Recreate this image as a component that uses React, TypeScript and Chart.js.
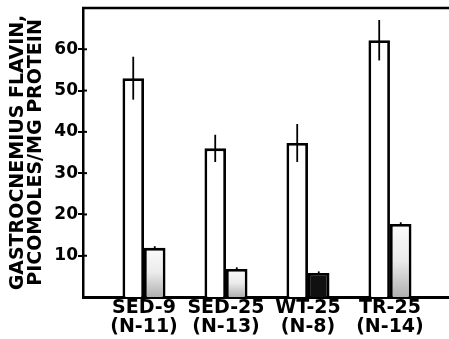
import { useEffect, useRef } from 'react';
import { Chart, registerables } from 'chart.js';

Chart.register(...registerables);

const groups = ['SED-9', 'SED-25', 'WT-25', 'TR-25'];
const groupN = ['(N-11)', '(N-13)', '(N-8)', '(N-14)'];
const openBarValues = [53, 36, 37.3, 62.2];
const openBarErrors = [5.2, 3.3, 4.6, 4.9];
const shadedBarValues = [11.9, 6.8, 5.8, 17.7];
const shadedBarErrors = [0.4, 0.4, 0.4, 0.4];
const yTickValues = [10, 20, 30, 40, 50, 60];
const yTitleLines = ['GASTROCNEMIUS FLAVIN,', 'PICOMOLES/MG PROTEIN'];

const FONT = "'DejaVu Sans', 'Liberation Sans', Arial, sans-serif";

const errorPlugin = {
  id: 'errorAndFrame',
  afterDatasetsDraw(chart: any) {
    const ctx = chart.ctx;
    const y = chart.scales.y;
    const errs = [openBarErrors, shadedBarErrors];
    const vals = [openBarValues, shadedBarValues];
    ctx.save();
    ctx.strokeStyle = '#000';
    ctx.lineWidth = 1.8;
    chart.data.datasets.forEach((_: any, di: number) => {
      const meta = chart.getDatasetMeta(di);
      meta.data.forEach((el: any, i: number) => {
        const v = vals[di][i];
        const e = errs[di][i];
        ctx.beginPath();
        ctx.moveTo(el.x, y.getPixelForValue(v + e));
        ctx.lineTo(el.x, y.getPixelForValue(v - e));
        ctx.stroke();
      });
    });
    // top frame line
    const ca = chart.chartArea;
    ctx.lineWidth = 2.5;
    ctx.beginPath();
    ctx.moveTo(ca.left - 1, ca.top);
    ctx.lineTo(chart.width, ca.top);
    ctx.stroke();
    // inner tick stubs on y axis
    ctx.lineWidth = 2;
    yTickValues.forEach((t) => {
      const py = y.getPixelForValue(t);
      ctx.beginPath();
      ctx.moveTo(ca.left, py);
      ctx.lineTo(ca.left + 4, py);
      ctx.stroke();
    });
    ctx.restore();
  },
};

export default function App() {
  const ref = useRef<HTMLCanvasElement | null>(null);

  useEffect(() => {
    if (!ref.current) return;
    const chart = new Chart(ref.current, {
      type: 'bar',
      data: {
        datasets: [
          {
            label: 'open',
            data: openBarValues.map((v, i) => ({ x: i, y: v })),
            backgroundColor: '#ffffff',
            borderColor: '#000000',
            borderWidth: 2.8,
          },
          {
            label: 'shaded',
            data: shadedBarValues.map((v, i) => ({ x: i, y: v })),
            backgroundColor: (c: any) => {
              if (c.dataIndex === 2) return '#111111';
              const chart = c.chart;
              const ys = chart.scales && chart.scales.y;
              if (!ys || !chart.chartArea) return '#d0d0d0';
              const v = shadedBarValues[c.dataIndex];
              const top = ys.getPixelForValue(v);
              const bot = ys.getPixelForValue(0);
              const g = chart.ctx.createLinearGradient(0, top, 0, bot);
              g.addColorStop(0, '#fbfbfb');
              g.addColorStop(0.5, '#ebebeb');
              g.addColorStop(1, '#b0b0b0');
              return g;
            },
            borderColor: '#000000',
            borderWidth: 2.8,
          },
        ] as any,
      },
      options: {
        animation: false,
        responsive: true,
        maintainAspectRatio: false,
        layout: { padding: { left: 0, right: 0, top: 8, bottom: 0 } },
        datasets: {
          bar: { categoryPercentage: 0.525, barPercentage: 1, borderSkipped: 'start' },
        } as any,
        plugins: {
          legend: { display: false },
          tooltip: { enabled: false },
        },
        scales: {
          x: {
            type: 'linear',
            offset: false,
            min: -0.744,
            max: 3.72,
            afterBuildTicks: (axis: any) => {
              axis.ticks = groups.map((_, i) => ({ value: i }));
            },
            afterFit: (axis: any) => {
              axis.height = 42;
              axis.paddingLeft = 0;
              axis.paddingRight = 0;
            },
            grid: { display: false, drawTicks: false, offset: false },
            border: { display: true, color: '#000', width: 3 },
            ticks: {
              color: '#000',
              padding: 2,
              maxRotation: 0,
              autoSkip: false,
              font: { family: FONT, size: 19, weight: 'bold', lineHeight: 1.0 },
              callback: (v: any) => {
                const i = Math.round(Number(v));
                return [groups[i], groupN[i]];
              },
            },
          },
          y: {
            min: 0,
            max: 70,
            afterBuildTicks: (axis: any) => {
              axis.ticks = yTickValues.map((v) => ({ value: v }));
            },
            afterFit: (axis: any) => {
              axis.width = 83;
              axis.paddingTop = 0;
              axis.paddingBottom = 0;
            },
            grid: { drawOnChartArea: false, drawTicks: true, tickLength: 5, color: '#000', lineWidth: 2 },
            border: { display: true, color: '#000', width: 2.5 },
            ticks: {
              color: '#000',
              padding: 0,
              font: { family: FONT, size: 17, weight: 'bold' },
            },
            title: {
              display: true,
              text: yTitleLines,
              color: '#000',
              padding: { top: 9, bottom: 0 },
              font: { family: FONT, size: 19, weight: 'bold', lineHeight: 0.95 },
            },
          },
        },
      } as any,
      plugins: [errorPlugin],
    });
    return () => chart.destroy();
  }, []);

  return (
    <div style={{ position: 'fixed', left: 0, top: 0, width: 449, height: 339, background: '#fff' }}>
      <canvas ref={ref} />
    </div>
  );
}
